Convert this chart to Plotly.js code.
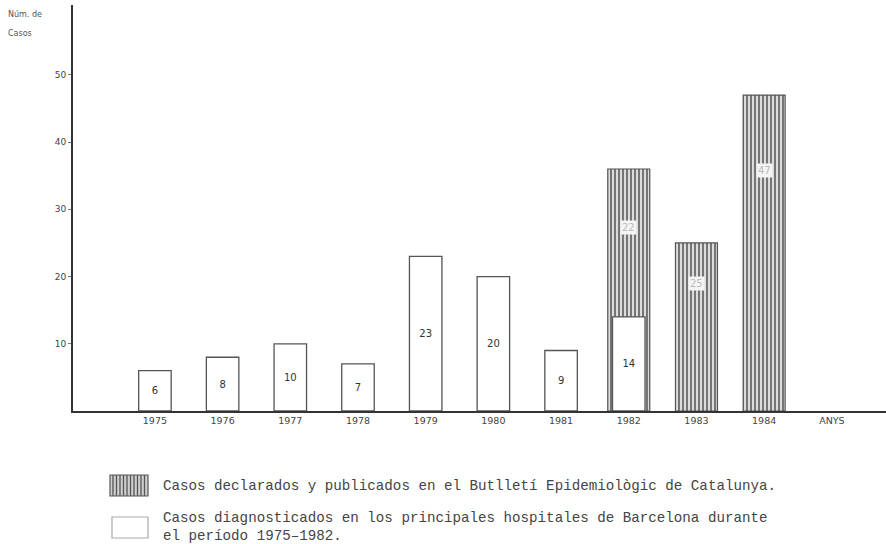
<!DOCTYPE html>
<html>
<head>
<meta charset="utf-8">
<script src="https://cdn.plot.ly/plotly-3.0.1.min.js"></script>
<style>html,body{margin:0;padding:0;background:#fff;}#chart{width:886px;height:544px;}</style>
</head>
<body>
<div id="chart"></div>
<script>
// ---- data ----
const years = [1975, 1976, 1977, 1978, 1979, 1980, 1981, 1982, 1983, 1984];
const hospitalCases = [6, 8, 10, 7, 23, 20, 9, 14, null, null];
const hospitalLabels = ['6', '8', '10', '7', '23', '20', '9', '14', '', ''];
const declaredCases = [null, null, null, null, null, null, null, 36, 25, 47];
const declaredLabels = ['', '', '', '', '', '', '', '22', '25', '47'];
const xTickVals = [1975, 1976, 1977, 1978, 1979, 1980, 1981, 1982, 1983, 1984, 1985];
const xTickText = ['1975', '1976', '1977', '1978', '1979', '1980', '1981', '1982', '1983', '1984', 'ANYS'];
const yTickVals = [10, 20, 30, 40, 50];
const legendDeclared = 'Casos declarados y publicados en el Butlletí Epidemiològic de Catalunya.';
const legendHospital1 = 'Casos diagnosticados en los principales hospitales de Barcelona durante';
const legendHospital2 = 'el período 1975–1982.';

// ---- layout helpers (pixel -> paper) ----
const L = 73, R = 886, T = 5, B = 411;
const px = x => (x - L) / (R - L);
const py = y => (B - y) / (B - T);

const traces = [
  {
    type: 'bar', x: years, y: declaredCases, width: 0.62,
    marker: {
      color: '#d8d8d8',
      line: {color: '#555', width: 1.2},
      pattern: {shape: '|', size: 4, solidity: 0.45, fgcolor: '#6a6a6a', bgcolor: '#dcdcdc'}
    },
    hoverinfo: 'skip', showlegend: false
  },
  {
    type: 'bar', x: years, y: hospitalCases, width: 0.48,
    text: hospitalLabels, textposition: 'inside', insidetextanchor: 'middle',
    textfont: {family: 'DejaVu Sans', size: 10, color: '#333'},
    textangle: 0,
    marker: {color: '#ffffff', line: {color: '#555', width: 1.3}},
    hoverinfo: 'skip', showlegend: false
  }
];

const annotations = [];
years.forEach((yr, i) => {
  if (declaredCases[i] !== null && declaredLabels[i]) {
    annotations.push({
      x: yr, y: declaredCases[i] * 0.76, xref: 'x', yref: 'y',
      text: declaredLabels[i], showarrow: false,
      font: {family: 'DejaVu Sans', size: 10, color: '#bbb'},
      bgcolor: '#f4f4f4', borderpad: 1
    });
  }
});
annotations.push(
  {xref: 'paper', yref: 'paper', x: px(6), y: py(14), xanchor: 'left', yanchor: 'middle',
   text: 'Núm. de', showarrow: false, font: {family: 'DejaVu Sans', size: 8, color: '#555'}},
  {xref: 'paper', yref: 'paper', x: px(6), y: py(33), xanchor: 'left', yanchor: 'middle',
   text: 'Casos', showarrow: false, font: {family: 'DejaVu Sans', size: 8, color: '#555'}},
  {xref: 'paper', yref: 'paper', x: px(161), y: py(486), xanchor: 'left', yanchor: 'middle',
   text: legendDeclared, showarrow: false, font: {family: 'Liberation Mono', size: 14.2, color: '#444'}},
  {xref: 'paper', yref: 'paper', x: px(161), y: py(527), xanchor: 'left', yanchor: 'middle', align: 'left',
   text: legendHospital1 + '<br>' + legendHospital2, showarrow: false,
   font: {family: 'Liberation Mono', size: 14.2, color: '#444'}}
);

const shapes = [
  {type: 'rect', xref: 'paper', yref: 'paper', x0: px(110), x1: px(148), y0: py(496), y1: py(475),
   fillcolor: '#cfcfcf', line: {color: '#555', width: 1.2}},
  {type: 'rect', xref: 'paper', yref: 'paper', x0: px(112), x1: px(148), y0: py(538), y1: py(517),
   fillcolor: '#ffffff', line: {color: '#aaa', width: 1.2}}
];
for (let xx = 113; xx < 147; xx += 3.5) {
  shapes.push({type: 'line', xref: 'paper', yref: 'paper', x0: px(xx), x1: px(xx), y0: py(496), y1: py(475),
    line: {color: '#555', width: 1.3}});
}

const layout = {
  width: 886, height: 544,
  margin: {l: L, r: 886 - R, t: T, b: 544 - B},
  paper_bgcolor: '#ffffff', plot_bgcolor: '#ffffff',
  barmode: 'overlay', bargap: 0,
  showlegend: false,
  xaxis: {
    range: [1973.79, 1985.8], tickvals: xTickVals, ticktext: xTickText,
    showgrid: false, zeroline: false, showline: true, linecolor: '#333', linewidth: 2,
    ticks: '', tickfont: {family: 'DejaVu Sans', size: 9.5, color: '#444'}, fixedrange: true
  },
  yaxis: {
    range: [0, 60.4], tickvals: yTickVals,
    showgrid: false, zeroline: false, showline: true, linecolor: '#333', linewidth: 2,
    ticks: 'outside', ticklen: 3, tickcolor: '#777', tickwidth: 1,
    tickfont: {family: 'DejaVu Sans', size: 9, color: '#444'}, fixedrange: true
  },
  annotations: annotations,
  shapes: shapes
};

Plotly.newPlot('chart', traces, layout, {displayModeBar: false, staticPlot: true});
</script>
</body>
</html>
